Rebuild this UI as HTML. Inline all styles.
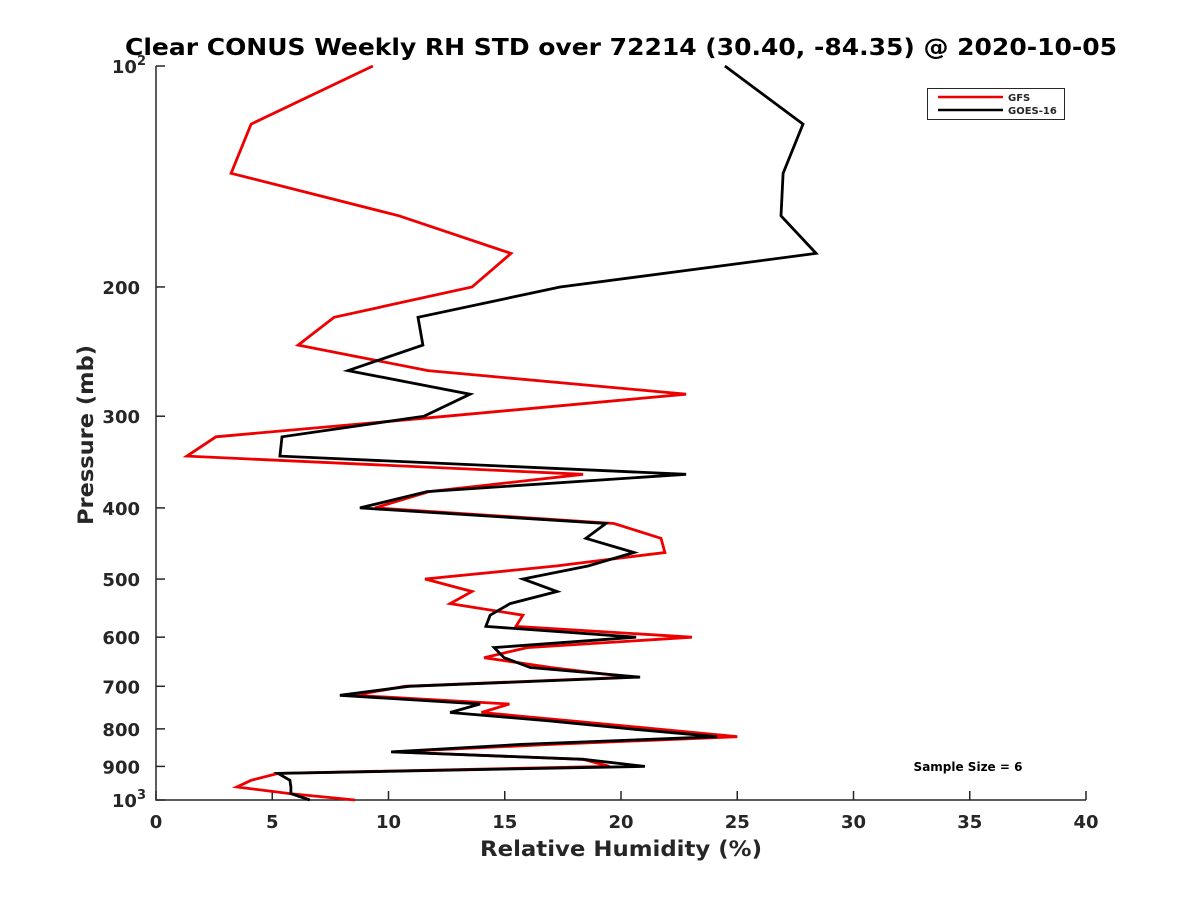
<!DOCTYPE html>
<html><head><meta charset="utf-8"><style>body{margin:0;background:#fff}svg text{font-family:"DejaVu Sans","Liberation Sans",sans-serif;font-weight:bold;fill:#262626}</style></head>
<body>
<svg id="chart" width="1200" height="900" xmlns="http://www.w3.org/2000/svg">
<text x="621" y="55" font-size="23" text-anchor="middle" textLength="992" lengthAdjust="spacingAndGlyphs" style="fill:#000">Clear CONUS Weekly RH STD over 72214 (30.40, -84.35) @ 2020-10-05</text>
<g id="axes"></g>
<g id="series"></g>
<g>
<rect x="927.5" y="88.5" width="137" height="31" fill="#fff" stroke="#262626" stroke-width="1"/>
<line x1="938" y1="97" x2="1003" y2="97" stroke="#e00" stroke-width="2.5"/>
<text x="1008" y="101" font-size="10">GFS</text>
<line x1="938" y1="110" x2="1003" y2="110" stroke="#000" stroke-width="2.5"/>
<text x="1008" y="114" font-size="10">GOES-16</text>
</g>
<text x="968" y="771" font-size="12" text-anchor="middle" style="fill:#000">Sample Size = 6</text>
<text x="621" y="856" font-size="21" text-anchor="middle" textLength="282" lengthAdjust="spacingAndGlyphs">Relative Humidity (%)</text>
<text transform="translate(93,435) rotate(-90)" font-size="21" text-anchor="middle" textLength="180" lengthAdjust="spacingAndGlyphs">Pressure (mb)</text>
</svg>
<script>
const pressures=[100,120,140,160,180,200,220,240,260,280,300,320,340,360,380,400,420,440,460,480,500,520,540,560,580,600,620,640,660,680,700,720,740,760,780,800,820,840,860,880,900,920,940,960,980,1000];
const gfsRH=[9.33,4.09,3.23,10.45,15.27,13.59,7.66,6.11,11.7,22.8,12.5,2.58,1.33,18.37,11.74,9.42,19.7,21.72,21.89,17.2,11.57,13.59,12.65,15.78,15.48,23.05,15.96,14.11,16.99,20.39,10.71,8.52,15.2,14.0,17.8,21.5,25.0,17.0,10.19,18.37,19.5,5.25,4.09,3.48,5.76,8.56];
const goesRH=[24.47,27.83,26.97,26.88,28.39,17.38,11.27,11.48,8.26,13.51,11.53,5.42,5.33,22.8,11.66,8.77,19.35,18.49,20.56,18.58,15.78,17.25,15.23,14.37,14.19,20.65,14.54,14.97,16.1,20.82,10.88,7.91,13.94,12.65,16.9,20.4,24.13,15.7,10.11,18.37,21.03,5.25,5.76,5.8,5.8,6.62];
const xTicks=[0,5,10,15,20,25,30,35,40];
const yTicks=[200,300,400,500,600,700,800,900];
const X0=156,X1=1086,Y0=66,Y1=800;
const xs=v=>X0+(v/40)*(X1-X0);
const ys=p=>Y0+(Math.log10(p)-2)*(Y1-Y0);
const NS="http://www.w3.org/2000/svg";
const axes=document.getElementById('axes'),ser=document.getElementById('series');
function mk(tag,attrs,parent){const e=document.createElementNS(NS,tag);for(const k in attrs)e.setAttribute(k,attrs[k]);parent.appendChild(e);return e;}
const ax=mk('path',{d:`M${X0},${Y0}V${Y1}H${X1}`,fill:'none',stroke:'#262626','stroke-width':1.5},axes);


xTicks.forEach(v=>{const x=xs(v);
 mk('line',{x1:x,y1:Y1,x2:x,y2:Y1-9,stroke:'#262626','stroke-width':1.5},axes);
 const t=mk('text',{x:x,y:Y1+28,'font-size':18,'text-anchor':'middle'},axes);t.textContent=v;
 
 });
yTicks.forEach(p=>{const y=ys(p);
 mk('line',{x1:X0,y1:y,x2:X0+9,y2:y,stroke:'#262626','stroke-width':1.5},axes);
 const t=mk('text',{x:X0-16,y:y+7,'font-size':18,'text-anchor':'end'},axes);t.textContent=p;
 
 });
[[100,'2'],[1000,'3']].forEach(([p,e])=>{const y=ys(p);
 mk('line',{x1:X0,y1:y,x2:X0+9,y2:y,stroke:'#262626','stroke-width':1.5},axes);
 const t=mk('text',{x:X0-10,y:y+7,'font-size':18,'text-anchor':'end'},axes);
 t.innerHTML='10<tspan dy="-8" font-size="13">'+e+'</tspan>';
 
 });
function line(vals,color,name){const d=vals.map((v,i)=>(i?'L':'M')+xs(v).toFixed(1)+','+ys(pressures[i]).toFixed(1)).join('');
 const p=mk('path',{d:d,fill:'none',stroke:color,'stroke-width':2.8,'stroke-linejoin':'miter'},ser);
 
 }
line(gfsRH,'#e00','gfs-line');
line(goesRH,'#000','goes16-line');
</script>
</body></html>
